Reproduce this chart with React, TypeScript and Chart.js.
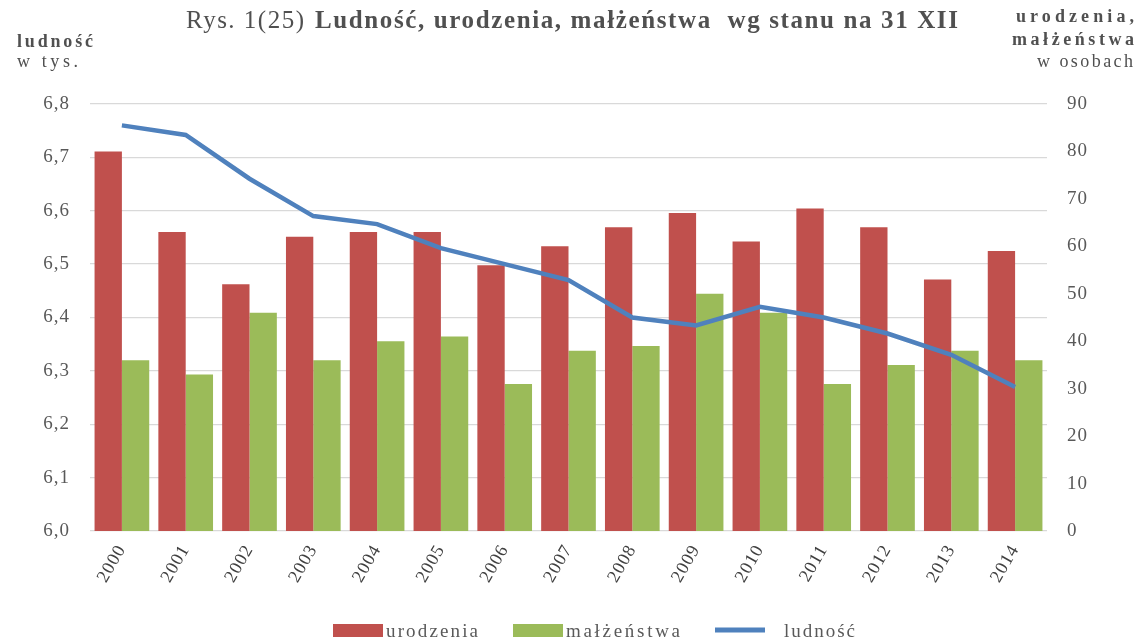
import React, { useEffect, useRef } from 'react';
import { Chart, registerables } from 'chart.js';

Chart.register(...registerables);

const years = ['2000', '2001', '2002', '2003', '2004', '2005', '2006', '2007', '2008', '2009', '2010', '2011', '2012', '2013', '2014'];
const urodzenia = [80, 63, 52, 62, 63, 63, 56, 60, 64, 67, 61, 68, 64, 53, 59];
const malzenstwa = [36, 33, 46, 36, 40, 41, 31, 38, 39, 50, 46, 31, 35, 38, 36];
const ludnosc = [6.76, 6.742, 6.66, 6.59, 6.575, 6.53, 6.5, 6.47, 6.4, 6.385, 6.42, 6.4, 6.37, 6.33, 6.27];

const leftTicks = { min: 6.0, max: 6.8, step: 0.1 };
const rightTicks = { min: 0, max: 90, step: 10 };

const titleRegular = 'Rys. 1(25)';
const titleBold = 'Ludność, urodzenia, małżeństwa  wg stanu na 31 XII';
const leftAxisTitle = ['ludność', 'w tys.'];
const rightAxisTitle = ['urodzenia,', 'małżeństwa', 'w osobach'];

const RED = '#C0504D';
const GREEN = '#9BBB59';
const BLUE = '#4F81BD';
const TEXT = '#505050';
const TICK = '#595959';
const SERIF = '"Liberation Serif", "DejaVu Serif", serif';

function fitText(ctx: CanvasRenderingContext2D, text: string, font: string, color: string, x: number, baseline: number, width: number, align: 'left' | 'right' = 'left') {
  ctx.save();
  ctx.font = font;
  ctx.fillStyle = color;
  ctx.textBaseline = 'alphabetic';
  ctx.textAlign = 'left';
  (ctx as any).letterSpacing = '0px';
  const w = ctx.measureText(text).width;
  const n = Array.from(text).length;
  const ls = n > 1 ? (width - w) / (n - 1) : 0;
  (ctx as any).letterSpacing = ls.toFixed(2) + 'px';
  const left = align === 'right' ? x - width : x;
  ctx.fillText(text, left, baseline);
  ctx.restore();
}

const textPlugin = {
  id: 'customText',
  beforeUpdate(chart: any) {
    (chart.ctx as any).letterSpacing = '1px';
  },
  beforeDraw(chart: any) {
    (chart.ctx as any).letterSpacing = '1px';
  },
  afterDraw(chart: any) {
    const ctx: CanvasRenderingContext2D = chart.ctx;
    // title
    fitText(ctx, titleRegular, `25px ${SERIF}`, TEXT, 186, 28, 118);
    fitText(ctx, titleBold, `bold 25px ${SERIF}`, TEXT, 315, 28, 643);
    // left axis title
    fitText(ctx, leftAxisTitle[0], `bold 18px ${SERIF}`, TEXT, 17, 47, 76);
    fitText(ctx, leftAxisTitle[1], `18px ${SERIF}`, TEXT, 17, 67, 61);
    // right axis title
    fitText(ctx, rightAxisTitle[0], `bold 18px ${SERIF}`, TEXT, 1134, 22, 118, 'right');
    fitText(ctx, rightAxisTitle[1], `bold 18px ${SERIF}`, TEXT, 1134, 45, 122, 'right');
    fitText(ctx, rightAxisTitle[2], `18px ${SERIF}`, TEXT, 1133, 67, 96, 'right');
    // legend
    const ds = chart.data.datasets;
    const items = [
      { x: 333, tx: 386, tw: 92, kind: 'box' },
      { x: 513, tx: 566, tw: 114, kind: 'box' },
      { x: 715, tx: 784, tw: 71, kind: 'line' },
    ];
    ctx.save();
    items.forEach((it, i) => {
      const d = ds[i];
      if (it.kind === 'box') {
        ctx.fillStyle = d.backgroundColor;
        ctx.fillRect(it.x, 624, 50, 13);
      } else {
        ctx.strokeStyle = d.borderColor;
        ctx.lineWidth = 5;
        ctx.beginPath();
        ctx.moveTo(it.x, 630);
        ctx.lineTo(it.x + 50, 630);
        ctx.stroke();
      }
      fitText(ctx, d.label, `19px ${SERIF}`, TICK, it.tx, 637, it.tw);
    });
    ctx.restore();
  },
};

export default function App() {
  const ref = useRef<HTMLCanvasElement | null>(null);
  useEffect(() => {
    if (!ref.current) return;
    const chart = new Chart(ref.current, {
      type: 'bar',
      data: {
        labels: years,
        datasets: [
          {
            type: 'bar',
            label: 'urodzenia',
            data: urodzenia,
            backgroundColor: RED,
            yAxisID: 'yR',
            order: 2,
            categoryPercentage: 0.857,
            barPercentage: 1.0,
          },
          {
            type: 'bar',
            label: 'małżeństwa',
            data: malzenstwa,
            backgroundColor: GREEN,
            yAxisID: 'yR',
            order: 3,
            categoryPercentage: 0.857,
            barPercentage: 1.0,
          },
          {
            type: 'line',
            label: 'ludność',
            data: ludnosc,
            borderColor: BLUE,
            backgroundColor: BLUE,
            borderWidth: 4.5,
            pointRadius: 0,
            tension: 0,
            yAxisID: 'yL',
            order: 1,
          },
        ] as any,
      },
      options: {
        animation: false,
        responsive: false,
        layout: { padding: { top: 104, left: 0, right: 0, bottom: 0 } },
        plugins: {
          legend: { display: false },
          title: { display: false },
          tooltip: { enabled: false },
        },
        scales: {
          x: {
            offset: true,
            grid: { display: false },
            border: { display: false },
            ticks: {
              autoSkip: false,
              minRotation: 60,
              maxRotation: 60,
              padding: 2,
              color: '#404040',
              font: { family: SERIF, size: 18 },
            },
            afterFit: (s: any) => { s.height = 111; },
          },
          yL: {
            position: 'left',
            min: leftTicks.min,
            max: leftTicks.max,
            ticks: {
              stepSize: leftTicks.step,
              padding: 20,
              color: TICK,
              font: { family: SERIF, size: 19 },
              callback: (v: any) => Number(v).toFixed(1).replace('.', ','),
            },
            grid: { color: '#D9D9D9', lineWidth: 1.3, drawTicks: false },
            border: { display: false },
            afterFit: (s: any) => { s.width = 90; },
          },
          yR: {
            position: 'right',
            min: rightTicks.min,
            max: rightTicks.max,
            ticks: {
              stepSize: rightTicks.step,
              padding: 20,
              color: TICK,
              font: { family: SERIF, size: 19 },
            },
            grid: { display: false, drawTicks: false },
            border: { display: false },
            afterFit: (s: any) => { s.width = 95; },
          },
        },
      } as any,
      plugins: [textPlugin],
    });
    return () => chart.destroy();
  }, []);
  return (
    <div style={{ position: 'fixed', left: 0, top: 0, width: 1142, height: 642, background: '#fff' }}>
      <canvas ref={ref} width={1142} height={642} style={{ display: 'block' }} />
    </div>
  );
}
